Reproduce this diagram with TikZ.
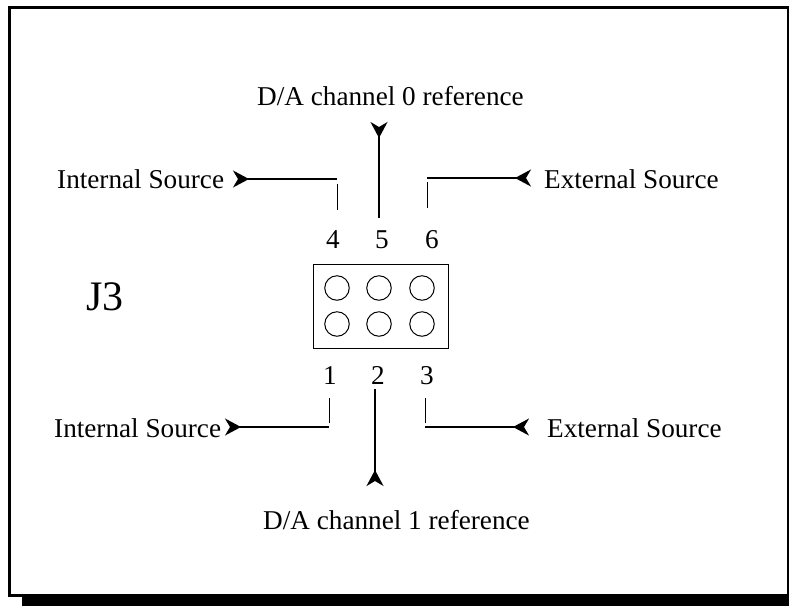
\documentclass[tikz,border=0pt]{standalone}
\usepackage{fontspec}
\setmainfont{Liberation Serif}
\usetikzlibrary{arrows.meta}
\tikzset{
  lbl/.style={inner sep=0pt, anchor=base west, font=\fontsize{27.2}{30}\selectfont},
  num/.style={inner sep=0pt, anchor=base, font=\fontsize{27.2}{30}\selectfont},
  pin/.style={circle, draw, line width=1pt, minimum size=24.5pt, inner sep=0pt},
  feed/.style={line width=1.3pt, {Stealth[reversed, length=16pt, width=17pt, inset=5pt]}-},
  stub/.style={line width=1pt}
}
\begin{document}
\begin{tikzpicture}[x=1pt,y=-1pt]
	\useasboundingbox (0,0) rectangle (789,606);
	\fill [black] (8,6) rectangle (789,597);
	\fill [white] (11,9) rectangle (787,594);
	\fill [black] (22,597) rectangle (789,606);

	\node at (257,105) [lbl] (datop) {D/A channel 0 reference};
	\node at (57,188) [lbl] (inttop) {Internal Source};
	\node at (544,188) [lbl] (exttop) {External Source};
	\node at (54,437) [lbl] (intbot) {Internal Source};
	\node at (547,437) [lbl] (extbot) {External Source};
	\node at (263,529) [lbl] (dabot) {D/A channel 1 reference};
	\node at (86,310) [lbl, font=\fontsize{42}{46}\selectfont] (jname) {J3};

	\node at (333,248) [num] (n4) {4};
	\node at (382,248) [num] (n5) {5};
	\node at (432,248) [num] (n6) {6};
	\node at (330,384) [num] (n1) {1};
	\node at (378,384) [num] (n2) {2};
	\node at (427,384) [num] (n3) {3};

	\draw [line width=1pt] (313,264) rectangle (448,348);
	\node at (337,288) [pin] (p4) {};
	\node at (379,288) [pin] (p5) {};
	\node at (422,288) [pin] (p6) {};
	\node at (337,324) [pin] (p1) {};
	\node at (379,324) [pin] (p2) {};
	\node at (422,324) [pin] (p3) {};

	% bends and free ends
	\coordinate (a4) at (233,179);
	\coordinate (b4) at (337,179);
	\coordinate (c4) at (337,184);
	\coordinate (d4) at (337,210);
	\coordinate (a5) at (379,122);
	\coordinate (b5) at (379,218);
	\coordinate (a6) at (531,178);
	\coordinate (b6) at (427,178);
	\coordinate (c6) at (427,182);
	\coordinate (d6) at (427,208);
	\coordinate (a1) at (225,427);
	\coordinate (b1) at (329,427);
	\coordinate (c1) at (329,423);
	\coordinate (d1) at (329,398);
	\coordinate (a2) at (375,486);
	\coordinate (b2) at (375,389);
	\coordinate (a3) at (529,427);
	\coordinate (b3) at (425,427);
	\coordinate (c3) at (425,423);
	\coordinate (d3) at (425,398);

	\draw [feed] (a4) -- (b4);
	\draw [feed] (a5) -- (b5);
	\draw [feed] (a6) -- (b6);
	\draw [feed] (a1) -- (b1);
	\draw [feed] (a2) -- (b2);
	\draw [feed] (a3) -- (b3);

	\draw [stub] (c4) -- (d4);
	\draw [stub] (c6) -- (d6);
	\draw [stub] (c1) -- (d1);
	\draw [stub] (c3) -- (d3);

\end{tikzpicture}
\end{document}
